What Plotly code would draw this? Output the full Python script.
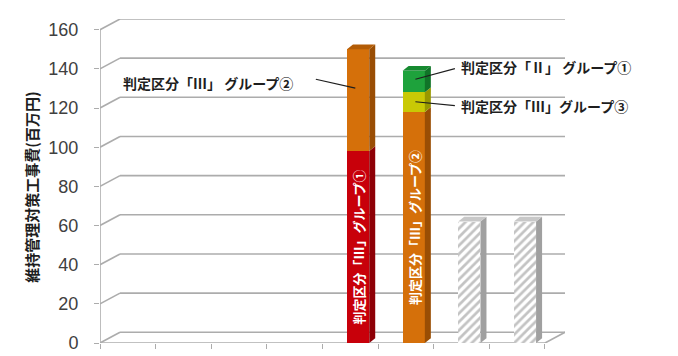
import plotly.graph_objects as go

# ---- data ----
cat_pos = [0, 1, 2, 3, 4, 5, 6, 7]          # category slots along the floor
s_III_1 = [0, 0, 0, 0, 98, 0, 0, 0]          # 判定区分「Ⅲ」グループ①
s_III_2 = [0, 0, 0, 0, 52, 118, 0, 0]        # 判定区分「Ⅲ」グループ②
s_III_3 = [0, 0, 0, 0, 0, 10, 0, 0]          # 判定区分「Ⅲ」グループ③
s_II_1 = [0, 0, 0, 0, 0, 11, 0, 0]           # 判定区分「Ⅱ」グループ①
s_future = [0, 0, 0, 0, 0, 0, 62, 62]        # hatched (未定)
y_ticks = [0, 20, 40, 60, 80, 100, 120, 140, 160]
y_title = "維持管理対策工事費(百万円)"
bar_text_1 = "判定区分「Ⅲ」グループ①"
bar_text_2 = "判定区分「Ⅲ」グループ②"
lbl_a = "判定区分「Ⅲ」 グループ②"
lbl_b = "判定区分「Ⅱ」 グループ①"
lbl_c = "判定区分「Ⅲ」グループ③"

# ---- geometry (pixels -> data units) ----
PX_X = 55.6       # px per category
PX_Y = 2.0125     # px per value unit
BX = 20 / PX_X    # back-wall depth offset
BY = 11 / PX_Y
DX = 6 / PX_X     # bar depth
DY = 5 / PX_Y
OFF = 0.64        # bar centre inside slot
W = 0.40
XMAX = 8 + BX
YMAX = 160 + BY

FONT = "Noto Sans CJK JP"
GRID = "#acacac"

fig = go.Figure()

series = [
    (s_III_1, "#C8000A", "#8E0006", "#A00008", bar_text_1, 4, None),
    (s_III_2, "#D5700A", "#9A4E04", "#B35C06", bar_text_2, 5, None),
    (s_III_3, "#C9C905", "#989800", "#AEAE00", None, None, None),
    (s_II_1, "#1EA23C", "#107428", "#168A30", None, None, None),
    (s_future, "white", "#A0A0A0", "#C8C8C8", None, None, "/"),
]

xs = [c + OFF for c in cat_pos]
base = [0.0] * len(cat_pos)
tops = {}
for vals, col, side, topc, txt, txt_i, pat in series:
    texts = [f"<b>{txt}</b>" if (txt and i == txt_i) else "" for i in range(len(vals))]
    marker = dict(color=col, line=dict(width=0))
    if pat:
        marker["pattern"] = dict(shape=pat, fgcolor="#888888", bgcolor="white",
                                 size=6, solidity=0.45)
    fig.add_trace(go.Bar(
        x=xs, y=vals, base=base, width=W, marker=marker,
        text=texts, textposition="inside", insidetextanchor="middle",
        textangle=-90, textfont=dict(family=FONT, size=13, color="white"),
        constraintext="none",
        hoverinfo="skip", showlegend=False, cliponaxis=False,
    ))
    # 3D side faces
    for i, v in enumerate(vals):
        if v <= 0:
            continue
        x1 = xs[i] + W / 2
        b, t = base[i], base[i] + v
        fig.add_shape(type="path",
                      path=f"M{x1},{b} L{x1+DX},{b+DY} L{x1+DX},{t+DY} L{x1},{t} Z",
                      fillcolor=side, line=dict(width=0), layer="above")
        tops[i] = (t, topc)
    base = [b + v for b, v in zip(base, vals)]

# top faces
for i, (t, topc) in tops.items():
    x0 = xs[i] - W / 2
    x1 = xs[i] + W / 2
    fig.add_shape(type="path",
                  path=f"M{x0},{t} L{x0+DX},{t+DY} L{x1+DX},{t+DY} L{x1},{t} Z",
                  fillcolor=topc, line=dict(width=0), layer="above")

# back-wall gridlines and left-wall diagonals
for v in y_ticks:
    fig.add_shape(type="line", x0=BX, y0=v + BY, x1=XMAX, y1=v + BY,
                  line=dict(color=GRID, width=1.6), layer="below")
    fig.add_shape(type="line", x0=0, y0=v, x1=BX, y1=v + BY,
                  line=dict(color=GRID, width=1.6), layer="below")
# floor
fig.add_shape(type="line", x0=0, y0=0, x1=8, y1=0, line=dict(color=GRID, width=1.6), layer="below")
fig.add_shape(type="line", x0=8, y0=0, x1=XMAX, y1=BY, line=dict(color=GRID, width=1.6), layer="below")
# vertical axis line
fig.add_shape(type="line", x0=0, y0=0, x1=0, y1=160, line=dict(color=GRID, width=1.6), layer="below")

# callout labels with leader lines
callouts = [
    (lbl_a, 1.94, 132.7, (3.88, 134.7), (4.59, 130.2)),
    (lbl_b, 8.01, 141.1, (6.38, 140.1), (5.67, 134.7)),
    (lbl_c, 7.99, 121.2, (6.38, 121.2), (5.67, 123.2)),
]
for text, ax, ay, p0, p1 in callouts:
    fig.add_annotation(x=ax, y=ay, xref="x", yref="y", text=f"<b>{text}</b>",
                       showarrow=False, xanchor="center", yanchor="middle",
                       font=dict(family=FONT, size=14, color="#1e1e1e"))
    fig.add_shape(type="line", x0=p0[0], y0=p0[1], x1=p1[0], y1=p1[1],
                  line=dict(color="#1e1e1e", width=1.2), layer="above")

# y-axis title
fig.add_annotation(x=-0.148, y=0.48, xref="paper", yref="paper",
                   text=f"<b>{y_title}</b>", showarrow=False, textangle=-90,
                   xanchor="center", yanchor="middle",
                   font=dict(family=FONT, size=15, color="#1e1e1e"))

# dotted border on the right
fig.add_shape(type="line", xref="paper", yref="paper", x0=1.256, x1=1.256,
              y0=-0.04, y1=1.04, line=dict(color="#8a8a8a", width=1.5, dash="dot"))

fig.update_layout(
    width=678, height=356,
    margin=dict(l=92, r=121, t=11, b=12, pad=0),
    paper_bgcolor="white", plot_bgcolor="white",
    barmode="overlay", bargap=0,
    showlegend=False,
    uniformtext=dict(minsize=13, mode="show"),
    xaxis=dict(range=[0, XMAX], tickvals=list(range(9)), ticks="outside",
               ticklen=5, tickcolor=GRID, tickwidth=1.2, showticklabels=False,
               showgrid=False, zeroline=False, showline=False, fixedrange=True),
    yaxis=dict(range=[0, YMAX], tickvals=y_ticks, ticks="outside", ticklen=5,
               tickcolor=GRID, tickwidth=1.2, showgrid=False, zeroline=False,
               showline=False, ticklabelstandoff=12,
               tickfont=dict(family="Liberation Sans", size=18, color="#404040"),
               fixedrange=True),
)

fig.write_html("out.html")
